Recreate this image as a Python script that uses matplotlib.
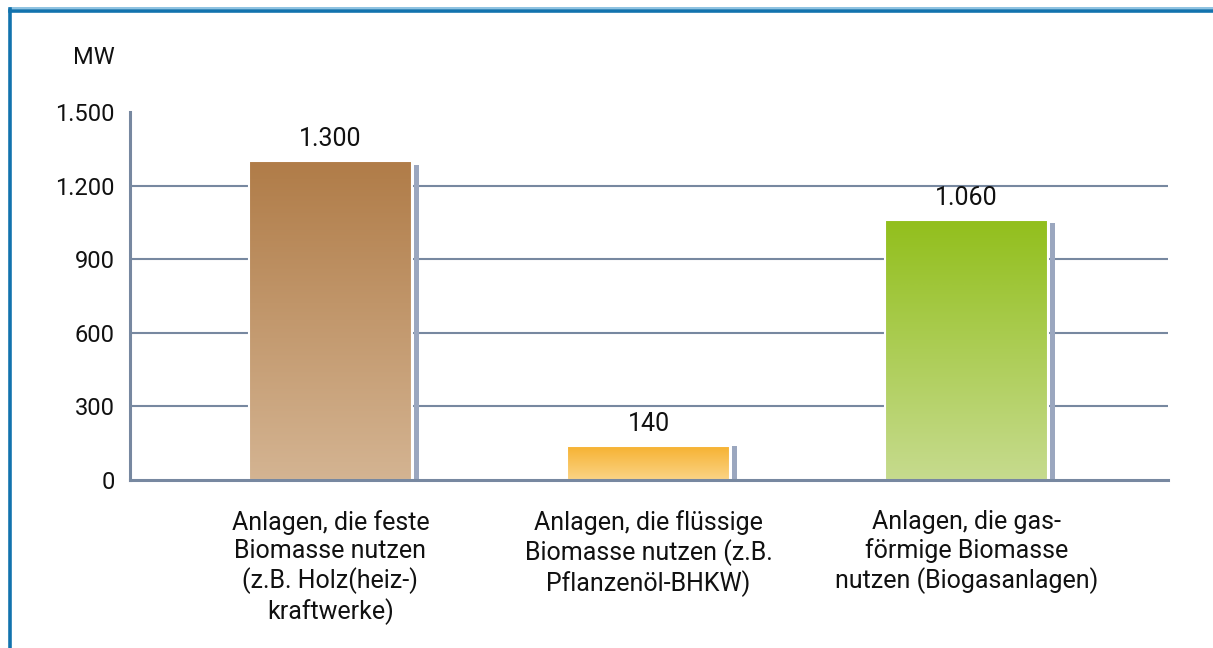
import numpy as np
import matplotlib
matplotlib.use("Agg")
import matplotlib.pyplot as plt
from matplotlib.colors import LinearSegmentedColormap
from matplotlib.lines import Line2D

categories = [
    "Anlagen, die feste\nBiomasse nutzen\n(z.B. Holz(heiz-)\nkraftwerke)",
    "Anlagen, die flüssige\nBiomasse nutzen (z.B.\nPflanzenöl-BHKW)",
    "Anlagen, die gas-\nförmige Biomasse\nnutzen (Biogasanlagen)",
]
values = [1300, 140, 1060]
yticks = [0, 300, 600, 900, 1200, 1500]
ytick_labels = ["0", "300", "600", "900", "1.200", "1.500"]
unit_label = "MW"
grad_top = ["#b07c48", "#f6b12f", "#92bf1c"]
grad_bottom = ["#d4b492", "#fbd486", "#c6db8e"]

plt.rcParams['font.family'] = ['Roboto', 'DejaVu Sans']

fig = plt.figure(figsize=(12.13, 6.48), dpi=100)
ax = fig.add_axes([130/1213, 1-480/648, (1168-130)/1213, (480-112)/648])

grid_c = "#7788a0"
ax.set_xlim(-0.63, 2.633)
ax.set_ylim(0, 1500)
for y in yticks[1:-1]:
    ax.axhline(y, color=grid_c, lw=1.5, zorder=1)

x = np.arange(len(values))
w = 0.512
grad = np.linspace(1, 0, 256).reshape(-1, 1)
for i, v in enumerate(values):
    cmap = LinearSegmentedColormap.from_list("g%d" % i, [grad_bottom[i], grad_top[i]])
    ax.imshow(grad, cmap=cmap, extent=[x[i]-w/2, x[i]+w/2, 0, v],
              aspect='auto', zorder=3, interpolation='bicubic')
    ax.bar(x[i], v, width=w, facecolor='none', edgecolor='white', lw=1.5, zorder=4)
    # thin shadow bar
    ax.bar(x[i]+w/2+0.006, v*0.988, width=0.016, align='edge',
           color="#9ba7bf", zorder=2)
    ax.annotate(f"{v:,}".replace(",", "."), (x[i], v), xytext=(0, 7),
                textcoords='offset points', ha='center', va='bottom',
                fontsize=18, color='#111111', zorder=5)

ax.set_xlim(-0.63, 2.633)
ax.set_ylim(0, 1500)

for s in ['top', 'right']:
    ax.spines[s].set_visible(False)
for s in ['left', 'bottom']:
    ax.spines[s].set_color(grid_c)
    ax.spines[s].set_linewidth(2.2)
    ax.spines[s].set_zorder(6)

ax.set_yticks(yticks)
ax.set_yticklabels(ytick_labels, fontsize=17, color='#111111')
ax.set_xticks(x)
ax.set_xticklabels(categories, fontsize=18, color='#111111', linespacing=1.2)
ax.tick_params(axis='y', length=0, pad=11)
ax.tick_params(axis='x', length=0, pad=21.5)

fig.text(94/1213, 1-57/648, unit_label, fontsize=17, ha='center', va='center', color='#111111')

# frame lines
fig.add_artist(Line2D([10/1213, 1], [1-8/648, 1-8/648], color="#7ab8dc", lw=1.2, transform=fig.transFigure))
fig.add_artist(Line2D([10/1213, 1], [1-10.5/648, 1-10.5/648], color="#1273ae", lw=2.6, transform=fig.transFigure))
fig.add_artist(Line2D([10/1213, 10/1213], [0, 1-9/648], color="#1273ae", lw=2.6, transform=fig.transFigure))

fig.savefig("out.png", dpi=100)
